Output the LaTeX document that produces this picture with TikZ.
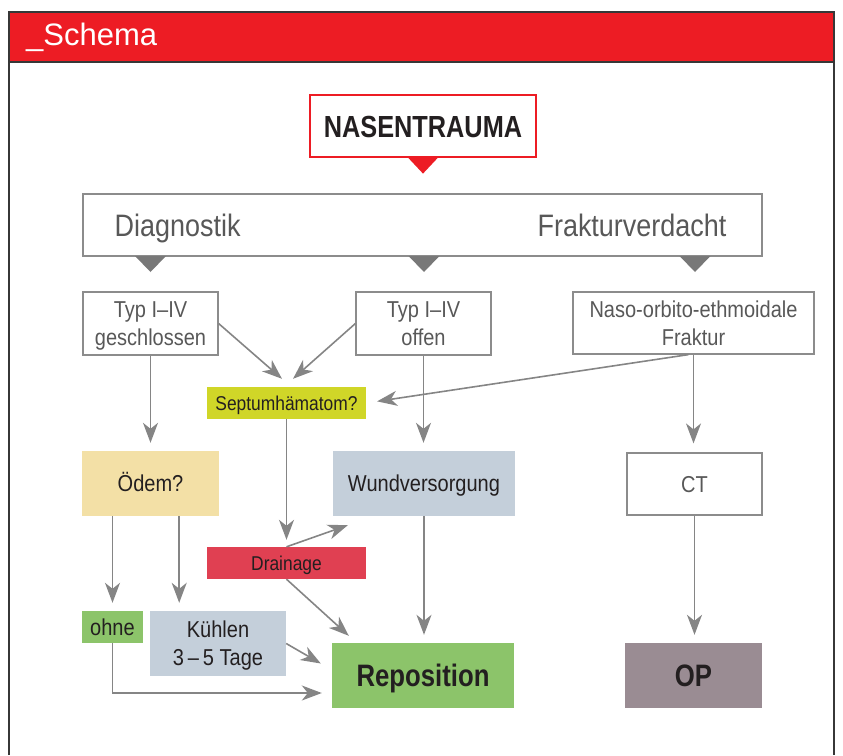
\documentclass[tikz,border=0pt]{standalone}
\usepackage{fontspec}
\setmainfont{Liberation Sans}[FakeStretch=0.87,BoldFeatures={FakeStretch=0.83}]
\newfontfamily\headfont{Liberation Sans}
\usetikzlibrary{arrows.meta,positioning}

\definecolor{schemared}{RGB}{237,28,36}
\definecolor{frameline}{RGB}{55,55,55}
\definecolor{boxgray}{RGB}{140,140,140}
\definecolor{markgray}{RGB}{120,120,120}
\definecolor{arrowgray}{RGB}{133,133,133}
\definecolor{textgray}{RGB}{88,88,88}
\definecolor{textdark}{RGB}{35,31,32}
\definecolor{septumyellow}{RGB}{208,214,40}
\definecolor{drainred}{RGB}{224,64,82}
\definecolor{odembeige}{RGB}{243,224,166}
\definecolor{bluegray}{RGB}{196,207,218}
\definecolor{okgreen}{RGB}{140,196,106}
\definecolor{opmauve}{RGB}{154,140,147}

\tikzset{
  plainbox/.style={inner sep=0pt, align=center},
  whitebox/.style={plainbox, draw=boxgray, line width=1.2pt, fill=white, text=textgray},
  fillbox/.style={plainbox, text=textdark},
  headtext/.style={font=\fontsize{31}{36}\selectfont, text height=22.2pt, text depth=0pt},
  midtext/.style={font=\fontsize{23}{28}\selectfont, text height=16.5pt, text depth=0pt},
  twoline/.style={font=\fontsize{23}{28}\selectfont, text height=44.5pt, text depth=0pt},
  smalltext/.style={font=\fontsize{20}{24}\selectfont, text height=14.3pt, text depth=0pt},
  bigtext/.style={font=\bfseries\fontsize{31}{36}\selectfont, text height=22.2pt, text depth=0pt},
  flow/.style={draw=arrowgray, line width=1.6pt, -{Stealth[length=20pt,width=15pt,inset=6pt]}}
}

\begin{document}
\begin{tikzpicture}[x=1pt, y=-1pt]
\useasboundingbox (0,0) rectangle (843,755);

\fill[schemared] (9,12) rectangle (834,62);
\draw[frameline, line width=2pt] (9,755) -- (9,12) -- (834,12) -- (834,755) (9,62) -- (834,62);
\node[anchor=base west, inner sep=0pt, text=white, font=\headfont\fontsize{31}{36}\selectfont] (head) at (26,45) {\_Schema};

\node[fillbox, draw=schemared, line width=1.2pt, fill=white, bigtext, font=\bfseries\fontsize{30.5}{36}\selectfont, minimum width=226pt, minimum height=62pt] (trauma) at (423,126) {NASENTRAUMA};
\fill[schemared] ([xshift=-15pt]trauma.south) -- ([xshift=15pt]trauma.south) -- ([yshift=-16pt]trauma.south) -- cycle;

\node[whitebox, minimum width=679pt, minimum height=62pt] (diag) at (422.5,225) {};
\node[plainbox, headtext, text=textgray, right=32pt of diag.west] (diagtxt) {Diagnostik};
\node[plainbox, headtext, text=textgray, left=36pt of diag.east] (verdacht) {Frakturverdacht};
\foreach \x in {150.5,424,695}
  \fill[markgray] (\x-15.5,256) -- (\x+15.5,256) -- (\x,272) -- cycle;

\node[whitebox, twoline, minimum width=135pt, minimum height=63pt] (gesch) at (150.5,323.5) {Typ I–IV\\geschlossen};
\node[whitebox, twoline, minimum width=135pt, minimum height=63pt] (offen) at (423.5,323.5) {Typ I–IV\\offen};
\node[whitebox, twoline, minimum width=241pt, minimum height=62pt] (naso) at (693.5,323) {Naso-orbito-ethmoidale\\Fraktur};

\node[fillbox, smalltext, fill=septumyellow, minimum width=159pt, minimum height=32pt] (septum) at (286.5,403) {Septumhämatom?};

\node[fillbox, midtext, fill=odembeige, minimum width=137pt, minimum height=65pt] (odem) at (150.5,483.5) {Ödem?};
\node[fillbox, midtext, fill=bluegray, minimum width=182pt, minimum height=65pt] (wund) at (424,483.5) {Wundversorgung};
\node[whitebox, midtext, minimum width=135pt, minimum height=62pt] (ct) at (694.5,484) {CT};

\node[fillbox, smalltext, fill=drainred, minimum width=159pt, minimum height=32pt] (drain) at (286.5,563) {Drainage};

\node[fillbox, midtext, fill=okgreen, minimum width=61pt, minimum height=32pt] (ohne) at (112.5,627) {ohne};
\node[fillbox, twoline, fill=bluegray, minimum width=136pt, minimum height=65pt] (kuehlen) at (218,643.5) {Kühlen\\3\,–\,5 Tage};
\node[fillbox, bigtext, fill=okgreen, minimum width=182pt, minimum height=65pt] (repos) at (423,675.5) {Reposition};
\node[fillbox, bigtext, fill=opmauve, minimum width=137pt, minimum height=65pt] (op) at (693.5,675.5) {OP};

\draw[flow, shorten >=8pt] (gesch.south) -- (odem.north);
\draw[flow] (gesch.east) -- ([shift={(-4.5,-8)}]septum.north);
\draw[flow] (offen.west) -- ([shift={(6.5,-8)}]septum.north);
\draw[flow, shorten >=8pt] (offen.south) -- (offen.south |- wund.north);
\draw[flow, shorten >=11pt] ([xshift=-5pt]naso.south) -- (septum.east);
\draw[flow, shorten >=9pt] (naso.south) -- (naso.south |- ct.north);

\draw[flow, shorten >=7pt] (septum.south) -- (drain.north);
\draw[flow] (drain.north) -- ([shift={(15,9)}]wund.south west);
\draw[flow] (drain.south) -- ([shift={(17,-7)}]repos.north west);
\draw[flow, shorten >=8pt] (wund.south) -- (wund.south |- repos.north);

\coordinate (odemr) at ([xshift=-40pt]odem.south east);
\draw[flow, shorten >=8pt] (ohne.north |- odem.south) -- (ohne.north);
\draw[flow, shorten >=8pt] (odemr) -- (odemr |- kuehlen.north);
\draw[flow] (kuehlen.east) -- ([shift={(-11,-12)}]repos.west);
\draw[flow] (ohne.south) |- ([shift={(-10,17.5)}]repos.west);
\draw[flow, shorten >=8pt] (ct.south) -- (ct.south |- op.north);
\end{tikzpicture}
\end{document}
